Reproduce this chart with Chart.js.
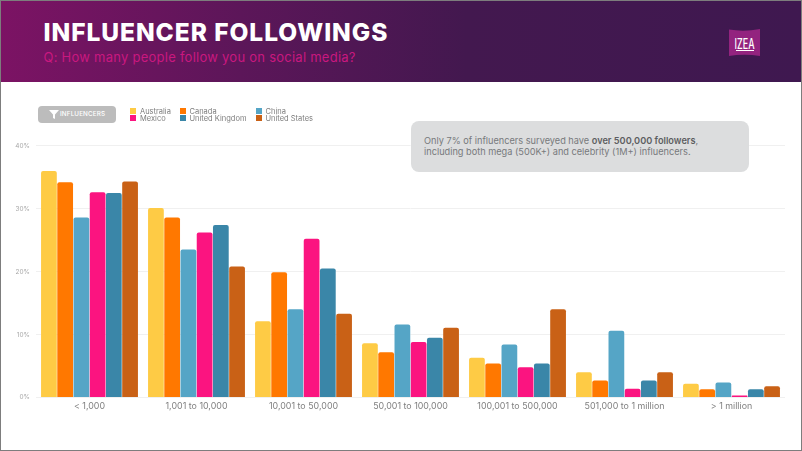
<!DOCTYPE html>
<html>
<head>
<meta charset="utf-8">
<title>Influencer Followings</title>
<script src="https://cdn.jsdelivr.net/npm/chart.js@4"></script>
<style>
  * { box-sizing: border-box; }
  html, body { margin: 0; padding: 0; background: #fff; }
  body { width: 802px; height: 451px; position: relative; overflow: hidden; font-family: Inter, sans-serif; }
  #frame { position: absolute; inset: 0; border: 1px solid #7d7d7d; border-left-width: 1.5px; pointer-events: none; z-index: 5; }
  #header { position: absolute; left: 0; top: 0; width: 802px; height: 82px; background: linear-gradient(90deg, #7c1364 0%, #5c1659 30%, #43184f 58%, #3f1850 100%); }
  #title { position: absolute; left: 43.5px; top: 17px; color: #fff; font-size: 24.5px; font-weight: 800; letter-spacing: .95px; line-height: 30px; white-space: nowrap; }
  #subtitle { position: absolute; left: 43.5px; top: 48px; color: #c9187f; font-size: 13px; letter-spacing: .25px; line-height: 18px; white-space: nowrap; }
  #logo { position: absolute; left: 729px; top: 29px; }
  #chartBox { position: absolute; left: -0.5px; top: 0; width: 802px; height: 451px; }
  #pill { position: absolute; left: 38px; top: 106px; width: 78px; height: 17px; border-radius: 4px; background: #bcbcbc; color: #fff; font-size: 6.3px; font-weight: 500; letter-spacing: .15px; line-height: 17px; padding-left: 22px; }
  #pill svg { position: absolute; left: 11px; top: 4px; }
  #legend { position: absolute; left: 130px; top: 107.5px; display: grid; grid-template-columns: 49.5px 76px 70px; grid-auto-rows: 7.4px; font-size: 7.5px; color: #7d7d7d; }
  #legend div { white-space: nowrap; line-height: 7.4px; }
  #legend i { display: inline-block; width: 6px; height: 6px; margin-right: 4px; vertical-align: -0.5px; }
  #note { position: absolute; left: 411px; top: 121px; width: 338px; height: 51px; border-radius: 8px; background: #dcddde; color: #77797c; font-size: 9.2px; line-height: 11px; padding: 14px 13px; white-space: nowrap; }
  #note b { font-weight: 600; color: #5c5e61; }
</style>
</head>
<body>
<div id="chartBox"><canvas id="followersChart" width="802" height="451"></canvas></div>
<div id="header">
  <div id="title">INFLUENCER FOLLOWINGS</div>
  <div id="subtitle">Q: How many people follow you on social media?</div>
  <svg id="logo" width="31" height="27" viewBox="0 0 31 27">
    <path d="M0 0.5Q15 3 31 0V27Q15 24.5 0 27Z" fill="#93237f"/>
    <text x="15.5" y="19.5" text-anchor="middle" fill="#fff" font-family="Inter" font-size="14" font-weight="500" textLength="20" lengthAdjust="spacingAndGlyphs">IZEA</text>
    <path d="M7 21.5H25" stroke="#fff" stroke-width="1"/>
  </svg>
</div>
<div id="pill"><svg width="10" height="9" viewBox="0 0 10 9"><path d="M0 0H10L6 4.5V9L4 8V4.5Z" fill="#fff"/></svg>INFLUENCERS</div>
<div id="legend"></div>
<div id="note">Only 7% of influencers surveyed have <b>over 500,000 followers</b>,<br>including both mega (500K+) and celebrity (1M+) influencers.</div>
<div id="frame"></div>
<script>
// Share of influencers per follower band (%)
const categories = ['< 1,000', '1,001 to 10,000', '10,001 to 50,000', '50,001 to 100,000', '100,001 to 500,000', '501,000 to 1 million', '> 1 million'];
const australia = [36.0, 30.1, 12.1, 8.6, 6.3, 4.0, 2.2];
const canada = [34.2, 28.6, 19.9, 7.2, 5.4, 2.7, 1.3];
const china = [28.6, 23.5, 14.0, 11.6, 8.4, 10.6, 2.4];
const mexico = [32.6, 26.2, 25.2, 8.8, 4.8, 1.4, 0.3];
const unitedKingdom = [32.5, 27.4, 20.5, 9.5, 5.4, 2.7, 1.3];
const unitedStates = [34.3, 20.8, 13.3, 11.1, 14.0, 4.0, 1.8];
const yTicks = [0, 10, 20, 30, 40];

const series = [
  { label: 'Australia', data: australia, color: '#fecb45' },
  { label: 'Canada', data: canada, color: '#ff7800' },
  { label: 'China', data: china, color: '#55a5c6' },
  { label: 'Mexico', data: mexico, color: '#fb1480' },
  { label: 'United Kingdom', data: unitedKingdom, color: '#3a86a8' },
  { label: 'United States', data: unitedStates, color: '#c96116' }
];

// Legend runs across three columns, so it is built by hand
const legend = document.getElementById('legend');
series.forEach(s => {
  const item = document.createElement('div');
  const swatch = document.createElement('i');
  swatch.style.background = s.color;
  item.appendChild(swatch);
  item.appendChild(document.createTextNode(s.label));
  legend.appendChild(item);
});

new Chart(document.getElementById('followersChart'), {
  type: 'bar',
  data: {
    labels: categories,
    datasets: series.map(s => ({
      label: s.label,
      data: s.data,
      backgroundColor: s.color,
      borderRadius: { topLeft: 2, topRight: 2 },
      borderSkipped: 'bottom',
      categoryPercentage: 0.91,
      barPercentage: 0.97
    }))
  },
  options: {
    responsive: false,
    animation: false,
    layout: { padding: { top: 145.7, right: 17, left: 0, bottom: 0 } },
    plugins: { legend: { display: false }, title: { display: false }, tooltip: { enabled: false } },
    scales: {
      x: {
        afterFit: scale => { scale.height = 53.5; },
        grid: { display: false, drawTicks: false },
        border: { display: false },
        ticks: { color: '#7f7f7f', font: { family: 'Inter', size: 8.9 }, padding: 3, maxRotation: 0, autoSkip: false }
      },
      y: {
        min: 0,
        max: 40,
        afterFit: scale => { scale.width = 36; },
        afterBuildTicks: scale => { scale.ticks = yTicks.map(v => ({ value: v })); },
        grid: { color: '#f0f0f0', lineWidth: 1, drawTicks: false },
        border: { display: false },
        ticks: { color: '#a8a8a8', font: { family: 'Inter', size: 6.5 }, padding: 6, callback: v => v + '%' }
      }
    }
  }
});
</script>
</body>
</html>
